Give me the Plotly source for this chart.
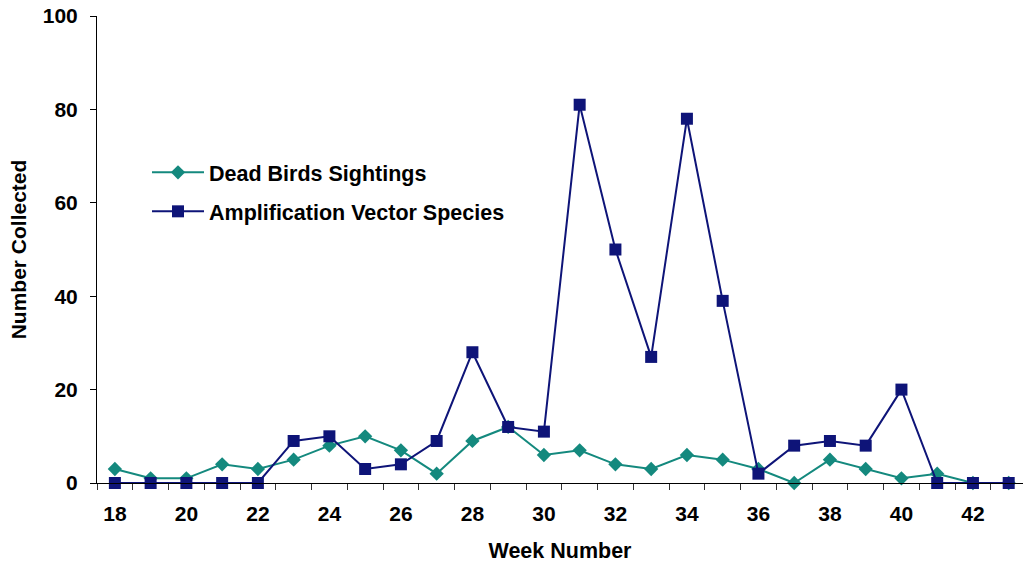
import plotly.graph_objects as go

weeks = list(range(18, 44))
dead_birds = [3, 1, 1, 4, 3, 5, 8, 10, 7, 2, 9, 12, 6, 7, 4, 3, 6, 5, 3, 0, 5, 3, 1, 2, 0, 0]
amplification = [0, 0, 0, 0, 0, 9, 10, 3, 4, 9, 28, 12, 11, 81, 50, 27, 78, 39, 2, 8, 9, 8, 20, 0, 0, 0]

FONT = "Liberation Sans, Arial, sans-serif"
TEAL = "#14897E"
NAVY = "#0E1478"

fig = go.Figure()
fig.add_trace(go.Scatter(
    x=weeks, y=dead_birds, name="Dead Birds Sightings", mode="lines+markers",
    line=dict(color=TEAL, width=2),
    marker=dict(symbol="diamond", size=11, color=TEAL),
    cliponaxis=False, legendgroup="a",
))
fig.add_trace(go.Scatter(
    x=weeks, y=amplification, name="Amplification Vector Species", mode="lines+markers",
    line=dict(color=NAVY, width=2),
    marker=dict(symbol="square", size=12, color=NAVY),
    cliponaxis=False, legendgroup="b",
))

fig.update_layout(
    width=1023, height=570,
    margin=dict(l=97, r=0, t=16, b=87),
    plot_bgcolor="white", paper_bgcolor="white",
    font=dict(family=FONT, size=21, color="black"),
    showlegend=True,
    legend=dict(
        x=0.054, y=0.709, xanchor="left", yanchor="top",
        bgcolor="rgba(0,0,0,0)",
        font=dict(family=FONT, size=21.5, color="black", weight="bold"),
        traceorder="grouped", tracegroupgap=8, itemwidth=52,
    ),
    xaxis=dict(
        range=[17.5, 43.4], tickmode="linear", tick0=18, dtick=2,
        ticks="", showgrid=False, zeroline=False,
        showline=True, linecolor="black", linewidth=1,
        tickfont=dict(family=FONT, size=21, weight="bold"),
        ticklabelstandoff=12,
        minor=dict(ticks="outside", tick0=17.5, dtick=1, ticklen=6, tickcolor="#333", showgrid=False),
        title=dict(text="Week Number", font=dict(family=FONT, size=21.5, weight="bold"), standoff=18),
    ),
    yaxis=dict(
        range=[0, 100], tickmode="linear", tick0=0, dtick=20,
        ticks="outside", ticklen=6, tickcolor="black",
        showgrid=False, zeroline=False,
        showline=True, linecolor="black", linewidth=1,
        tickfont=dict(family=FONT, size=21, weight="bold"),
        ticklabelstandoff=8,
        title=dict(text="Number Collected", font=dict(family=FONT, size=21, weight="bold"), standoff=10),
    ),
)

fig.write_html("out.html")
